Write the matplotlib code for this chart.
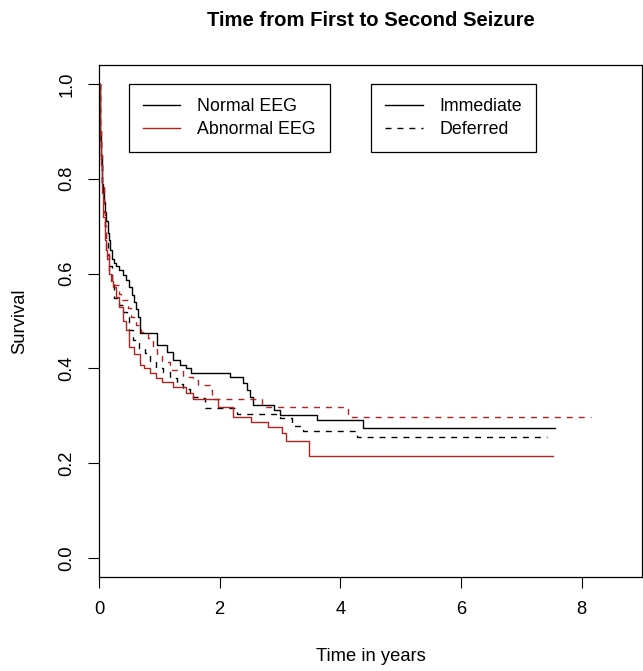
import matplotlib
matplotlib.use("Agg")
import matplotlib.pyplot as plt
from matplotlib.lines import Line2D

plt.rcParams['font.family'] = ['Liberation Sans', 'DejaVu Sans']

# Kaplan-Meier step curves (time in years, survival)
norm_imm_t = [0, 0.01, 0.02, 0.03, 0.05, 0.07, 0.08, 0.10, 0.12, 0.15, 0.17, 0.19, 0.21, 0.25, 0.28, 0.33, 0.40, 0.45,
              0.50, 0.55, 0.58, 0.62, 0.65, 0.68, 0.96, 1.12, 1.23, 1.35, 1.45, 1.53, 2.17, 2.39, 2.45, 2.50, 2.55,
              2.90, 3.00, 3.62, 4.37, 7.55]
norm_imm_s = [1.0, 0.95, 0.90, 0.85, 0.79, 0.77, 0.75, 0.73, 0.71, 0.685, 0.67, 0.65, 0.63, 0.623, 0.617, 0.607,
              0.596, 0.586, 0.571, 0.555, 0.54, 0.525, 0.508, 0.474, 0.449, 0.434, 0.417, 0.408, 0.40, 0.39, 0.381,
              0.37, 0.355, 0.34, 0.322, 0.312, 0.301, 0.291, 0.274, 0.274]

norm_def_t = [0, 0.01, 0.02, 0.03, 0.05, 0.08, 0.10, 0.12, 0.15, 0.17, 0.21, 0.25, 0.33, 0.40, 0.46, 0.50, 0.56,
              0.66, 0.76, 0.84, 0.95, 1.06, 1.18, 1.30, 1.40, 1.50, 1.67, 1.75, 2.28, 3.00, 3.20, 3.38, 4.28, 7.43]
norm_def_s = [1.0, 0.95, 0.89, 0.84, 0.78, 0.73, 0.70, 0.67, 0.64, 0.617, 0.58, 0.548, 0.533, 0.52, 0.508, 0.48,
              0.46, 0.443, 0.432, 0.415, 0.40, 0.392, 0.38, 0.368, 0.356, 0.34, 0.337, 0.316, 0.303, 0.295, 0.278,
              0.267, 0.255, 0.255]

abn_imm_t = [0, 0.01, 0.02, 0.03, 0.05, 0.07, 0.10, 0.12, 0.14, 0.17, 0.20, 0.23, 0.28, 0.33, 0.40, 0.45, 0.50,
             0.58, 0.68, 0.75, 0.85, 0.95, 1.04, 1.23, 1.45, 1.56, 1.97, 2.22, 2.52, 2.80, 3.03, 3.10, 3.48, 7.53]
abn_imm_s = [1.0, 0.95, 0.88, 0.83, 0.77, 0.72, 0.67, 0.65, 0.63, 0.60, 0.585, 0.571, 0.55, 0.53, 0.50, 0.48,
             0.445, 0.43, 0.407, 0.40, 0.39, 0.38, 0.371, 0.36, 0.348, 0.336, 0.318, 0.298, 0.287, 0.277, 0.263,
             0.246, 0.215, 0.215]

abn_def_t = [0, 0.01, 0.02, 0.03, 0.05, 0.08, 0.10, 0.12, 0.17, 0.21, 0.33, 0.36, 0.48, 0.53, 0.61, 0.70, 0.81,
             0.89, 0.96, 1.04, 1.18, 1.40, 1.55, 1.64, 1.84, 1.87, 2.70, 4.12, 8.16]
abn_def_s = [1.0, 0.95, 0.90, 0.85, 0.79, 0.73, 0.69, 0.643, 0.597, 0.576, 0.558, 0.544, 0.527, 0.508, 0.491,
             0.476, 0.464, 0.445, 0.428, 0.413, 0.396, 0.381, 0.375, 0.365, 0.354, 0.335, 0.318, 0.297, 0.297]

x_ticks = [0, 2, 4, 6, 8]
y_ticks = [0.0, 0.2, 0.4, 0.6, 0.8, 1.0]

red = "#B22222"
dash = (0, (4.3, 4.3))
fs = 13.2

fig = plt.figure(figsize=(6.43, 6.71), dpi=100)
ax = fig.add_axes([99 / 643, 1 - 577 / 671, 543 / 643, 512 / 671])

ax.step(norm_imm_t, norm_imm_s, where="post", color="black", lw=1.0)
ax.step(norm_def_t, norm_def_s, where="post", color="black", lw=1.0, linestyle=dash)
ax.step(abn_imm_t, abn_imm_s, where="post", color=red, lw=1.0)
ax.step(abn_def_t, abn_def_s, where="post", color=red, lw=1.0, linestyle=dash)

ax.set_xlim(0, 9)
ax.set_ylim(-0.04, 1.04)
ax.set_xticks(x_ticks)
ax.set_xticklabels([str(t) for t in x_ticks])
ax.set_yticks(y_ticks)
ax.set_yticklabels([f"{t:.1f}" for t in y_ticks], rotation=90, va="center")
ax.tick_params(length=8, width=0.8, labelsize=fs, pad=9)
for s in ax.spines.values():
    s.set_linewidth(0.9)

ax.set_title("Time from First to Second Seizure", fontsize=14.6, fontweight="bold", pad=28)
ax.set_xlabel("Time in years", fontsize=fs, labelpad=22)
ax.set_ylabel("Survival", fontsize=fs, labelpad=22)

leg_kw = dict(loc="upper left", fontsize=12.8, frameon=True, fancybox=False, edgecolor="black",
              framealpha=1, handlelength=2.1, handletextpad=0.95, borderpad=0.8,
              labelspacing=0.33, borderaxespad=0)

h1 = [Line2D([], [], color="black", lw=1.0), Line2D([], [], color=red, lw=1.0)]
leg1 = ax.legend(h1, ["Normal EEG", "Abnormal EEG"], bbox_to_anchor=(0.055, 0.963), **leg_kw)
leg1.get_frame().set_linewidth(0.9)
ax.add_artist(leg1)

h2 = [Line2D([], [], color="black", lw=1.0), Line2D([], [], color="black", lw=1.0, linestyle=dash)]
leg2 = ax.legend(h2, ["Immediate", "Deferred"], bbox_to_anchor=(0.501, 0.963), **leg_kw)
leg2.get_frame().set_linewidth(0.9)

fig.savefig("out.png", dpi=100)
